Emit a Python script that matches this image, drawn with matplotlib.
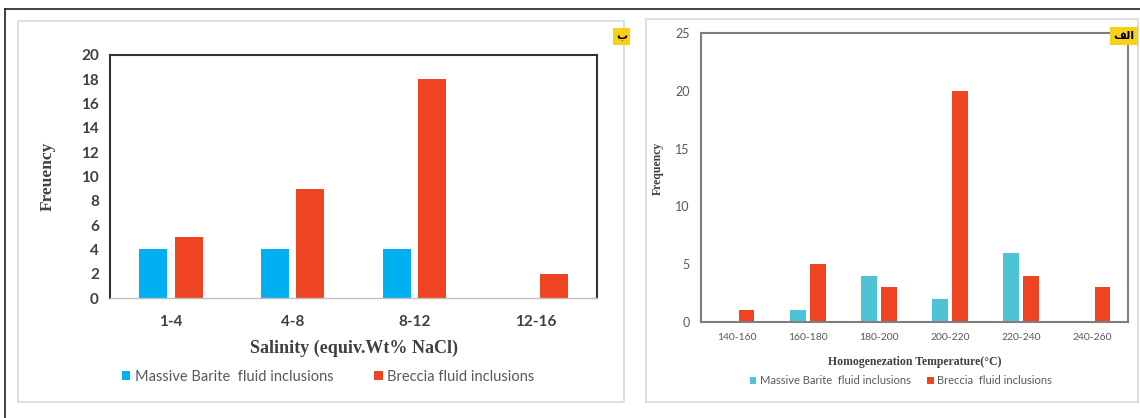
"""Fluid inclusion histograms: salinity (left) and homogenization temperature (right)"""
import numpy as np
from matplotlib import pyplot as plt
from matplotlib.patches import Rectangle
from matplotlib.lines import Line2D

# Left panel: salinity
sal_bins = ['1-4', '4-8', '8-12', '12-16']
sal_massive = [4, 4, 4, 0]
sal_breccia = [5, 9, 18, 2]

# Right panel: homogenization temperature
temp_bins = ['140-160', '160-180', '180-200', '200-220', '220-240', '240-260']
temp_massive = [0, 1, 4, 2, 6, 0]
temp_breccia = [1, 5, 3, 20, 4, 3]

W, H = 1140, 418
SERIF = 'Liberation Serif'
SANS = 'Lato'


def fx(px):
    return px / W


def fy(py):
    return 1 - py / H


def box(fig, x0, y0, x1, y1, **kw):
    fig.patches.append(Rectangle((fx(x0), fy(y1)), fx(x1 - x0), (y1 - y0) / H,
                                 transform=fig.transFigure, **kw))


def tag(fig, x0, y0, x1, y1, text):
    box(fig, x0, y0, x1, y1, facecolor='#f7d117', edgecolor='none', zorder=5)
    fig.text(fx((x0 + x1) / 2), fy((y0 + y1) / 2), text, ha='center', va='center',
             fontsize=8, fontweight='bold', family='DejaVu Sans', zorder=6)


def plot():
    fig = plt.figure(figsize=(W / 100, H / 100), dpi=100)
    fig.patch.set_facecolor('white')

    # outer frame lines
    fig.lines.append(Line2D([fx(5), 1], [fy(9), fy(9)], color='#222222', lw=1.2,
                            transform=fig.transFigure, zorder=-2))
    fig.lines.append(Line2D([fx(5), fx(5)], [fy(9), 0], color='#222222', lw=1.2,
                            transform=fig.transFigure, zorder=-2))

    # panel backgrounds
    box(fig, 18, 21, 624, 402, facecolor='white', edgecolor='#d9d9d9', lw=1.2, zorder=-1)
    box(fig, 646, 19, 1138, 402, facecolor='white', edgecolor='#d9d9d9', lw=1.2, zorder=-1)

    # ---- left chart
    ax = fig.add_axes([fx(110), fy(298), fx(597 - 110), (298 - 55) / H])
    ax.patch.set_alpha(0)
    x = np.arange(len(sal_bins))
    ax.bar(x - 0.145, sal_massive, 0.23, color='#00b0f0', label='Massive Barite  fluid inclusions')
    ax.bar(x + 0.145, sal_breccia, 0.23, color='#ee4422', label='Breccia fluid inclusions')
    ax.set_xlim(-0.5, len(sal_bins) - 0.5)
    ax.set_ylim(0, 20)
    ax.set_yticks(np.arange(0, 21, 2))
    ax.set_xticks(x)
    ax.set_xticklabels(sal_bins)
    ax.tick_params(length=0, labelsize=11, colors='#404040')
    ax.tick_params(axis='x', pad=12)
    ax.tick_params(axis='y', pad=8)
    for lab in ax.get_xticklabels() + ax.get_yticklabels():
        lab.set_family(SANS)
        lab.set_fontweight('bold')
    for sp in ax.spines.values():
        sp.set_color('#333333')
        sp.set_linewidth(1.5)
    ax.spines['bottom'].set_color('#bfbfbf')
    ax.spines['bottom'].set_linewidth(1.0)
    ax.set_xlabel('Salinity (equiv.Wt% NaCl)', family=SERIF, fontweight='bold',
                  fontsize=13, color='#404040', labelpad=8)
    ax.set_ylabel('Freuency', family=SERIF, fontweight='bold', fontsize=12.5,
                  color='#404040', labelpad=18)
    fig.legend(*ax.get_legend_handles_labels(), loc='center', ncol=2,
               bbox_to_anchor=(fx(328), fy(377)), frameon=False,
               prop={'family': SANS, 'size': 10.5}, labelcolor='#595959',
               handlelength=0.6, handleheight=0.6, handletextpad=0.3, columnspacing=2.8)
    tag(fig, 613, 28, 630, 45, 'ب')

    # ---- right chart
    ax2 = fig.add_axes([fx(701), fy(322), fx(1128 - 701), (322 - 33) / H])
    ax2.patch.set_alpha(0)
    x = np.arange(len(temp_bins))
    ax2.bar(x - 0.14, temp_massive, 0.22, color='#4fc3d6', label='Massive Barite  fluid inclusions')
    ax2.bar(x + 0.14, temp_breccia, 0.22, color='#ee4422', label='Breccia  fluid inclusions')
    ax2.set_xlim(-0.5, len(temp_bins) - 0.5)
    ax2.set_ylim(0, 25)
    ax2.set_yticks(np.arange(0, 26, 5))
    ax2.set_xticks(x)
    ax2.set_xticklabels(temp_bins)
    ax2.tick_params(length=0, labelsize=7.5, colors='#595959', pad=8)
    for lab in ax2.get_xticklabels() + ax2.get_yticklabels():
        lab.set_family(SANS)
    ax2.tick_params(axis='y', labelsize=9, pad=8)
    for sp in ax2.spines.values():
        sp.set_color('#7f7f7f')
        sp.set_linewidth(1.5)
    ax2.set_xlabel('Homogenezation Temperature(°C)', family=SERIF, fontweight='bold',
                   fontsize=8.5, color='#404040', labelpad=10)
    ax2.set_ylabel('Frequency', family=SERIF, fontweight='bold', fontsize=8.5,
                   color='#404040')
    ax2.yaxis.set_label_coords(-0.087, 0.53)
    fig.legend(*ax2.get_legend_handles_labels(), loc='center', ncol=2,
               bbox_to_anchor=(fx(901), fy(381)), frameon=False,
               prop={'family': SANS, 'size': 8}, labelcolor='#595959',
               handlelength=0.6, handleheight=0.6, handletextpad=0.3, columnspacing=1.5)
    tag(fig, 1110, 27, 1138, 45, '\ufed2\ufedf\ufe8d')

    fig.savefig('out.png', dpi=100)


if __name__ == '__main__':
    plot()
